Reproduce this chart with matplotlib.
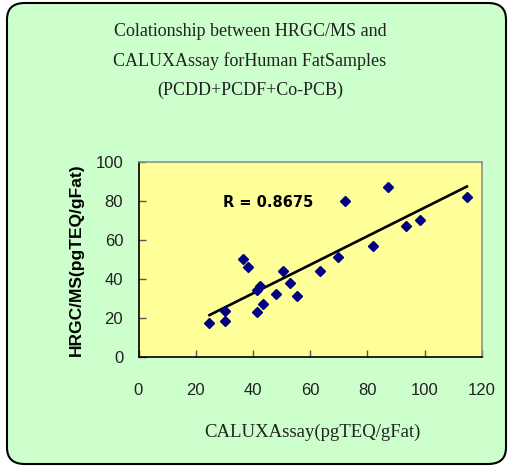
import matplotlib
matplotlib.use("Agg")
import matplotlib.pyplot as plt
import numpy as np
from matplotlib.patches import FancyBboxPatch

# Data
calux = [24.8, 30.1, 30.1, 36.5, 38.1, 41.5, 42.3, 41.5, 43.4, 47.9, 50.5,
         53.0, 55.5, 63.3, 69.7, 72.3, 81.8, 87.0, 93.6, 98.4, 114.7]
hrgc = [17.2, 23.5, 18.3, 50.1, 46.0, 34.3, 36.3, 23.0, 27.1, 32.1, 44.0,
        38.0, 31.2, 44.0, 51.1, 80.0, 57.0, 87.0, 67.0, 70.1, 82.1]
x_ticks = [0, 20, 40, 60, 80, 100, 120]
y_ticks = [0, 20, 40, 60, 80, 100]
title_lines = ["Colationship between HRGC/MS and",
               "CALUXAssay forHuman FatSamples",
               "(PCDD+PCDF+Co-PCB)"]
r_label = "R = 0.8675"
x_label = "CALUXAssay(pgTEQ/gFat)"
y_label = "HRGC/MS(pgTEQ/gFat)"

W, H = 508, 469
fig = plt.figure(figsize=(W / 100, H / 100), dpi=100)
fig.patch.set_facecolor("white")

# rounded green background
bg = FancyBboxPatch((7 / W, 5 / H), (499 / W), (461 / H),
                    boxstyle="round,pad=0,rounding_size=0.035",
                    transform=fig.transFigure, facecolor="#CCFFCC",
                    edgecolor="black", linewidth=1.5, zorder=-10)
fig.patches.append(bg)

left, right = 138.5 / W, 482 / W
bottom, top = (H - 356.7) / H, (H - 162) / H
ax = fig.add_axes([left, bottom, right - left, top - bottom])
ax.set_zorder(1)
ax.set_facecolor("#FFFF99")
ax.set_xlim(0, 120)
ax.set_ylim(0, 100)
ax.set_xticks(x_ticks)
ax.set_yticks(y_ticks)
ax.tick_params(direction="in", length=5, width=1, color="#555555",
               labelsize=12, labelcolor="#222222")
ax.tick_params(axis="x", pad=19)
ax.tick_params(axis="y", pad=11)
for lab in ax.get_xticklabels() + ax.get_yticklabels():
    lab.set_family("Liberation Sans")
ax.spines["left"].set_color("black")
ax.spines["bottom"].set_color("black")
ax.spines["top"].set_color("#909090")
ax.spines["right"].set_color("#909090")
for s in ax.spines.values():
    s.set_linewidth(1.2)

ax.plot(calux, hrgc, linestyle="none", marker="D", markersize=4.6,
        color="#000080", zorder=3)

# linear trend line
xa = np.array(calux)
ya = np.array(hrgc)
m, b = np.polyfit(xa, ya, 1)
xs = np.array([xa.min(), xa.max()])
ax.plot(xs, m * xs + b, color="black", linewidth=1.9, zorder=2)

ax.text(29.5, 79, r_label, fontsize=10.5, fontweight="bold",
        family="DejaVu Sans", va="center", ha="left")

ax.set_xlabel(x_label, family="Liberation Serif", fontsize=13.5, color="#222222")
ax.xaxis.set_label_coords((312 - 138.5) / 343.5, (356.7 - 432) / 194.7)
ax.xaxis.label.set_va("center")
ax.set_ylabel(y_label, family="Liberation Sans", fontsize=12.5,
              fontweight="bold", color="black")
ax.yaxis.set_label_coords((76 - 138.5) / 343.5, 0.5)
ax.yaxis.label.set_va("center")

for i, (t, yy) in enumerate(zip(title_lines, [31, 61, 90])):
    fig.text(250 / W, 1 - yy / H, t, ha="center", va="center",
             family="Liberation Serif", fontsize=13, color="#222222")

fig.savefig("out.png", dpi=100)
